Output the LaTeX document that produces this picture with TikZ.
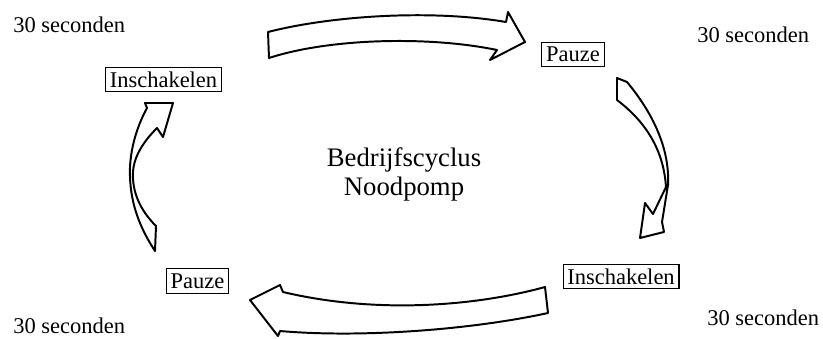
\documentclass[tikz,border=0pt]{standalone}
\usepackage{fontspec}
\setmainfont{Liberation Serif}
\usepackage{tikz}
\usetikzlibrary{positioning}
\tikzstyle{state} = [rectangle, draw=black, line width=0.8pt, inner xsep=3pt, inner ysep=1pt, minimum height=0.62cm, text centered, font=\fontsize{16}{18}\selectfont]
\tikzstyle{duration} = [inner sep=0pt, anchor=base west, font=\fontsize{16}{18}\selectfont]
\tikzstyle{title} = [align=center, font=\fontsize{19}{20.6}\selectfont]
\tikzstyle{blockarrow} = [draw=black, fill=white, line width=1.4pt, line join=round]

\begin{document}
\begin{tikzpicture}[x=0.025cm, y=-0.025cm]
\useasboundingbox (0,0) rectangle (823,338);

\node (secTL) [duration] at (13,32) {30 seconden};
\node (secTR) [duration] at (697,42) {30 seconden};
\node (secBL) [duration] at (13,333) {30 seconden};
\node (secBR) [duration] at (707,325) {30 seconden};

\node (inschTL) [state] at (163.5,79.5) {Inschakelen};
\node (pauzeTR) [state] at (573,54.5) {Pauze};
\node (inschBR) [state] at (621,276.5) {Inschakelen};
\node (pauzeBL) [state] at (197.5,281) {Pauze};

\node (title) [title] at (404,174) {Bedrijfscyclus\\Noodpomp};

\draw [blockarrow] (268,32) .. controls (330,16) and (430,9) .. (506,22) -- (508,12) -- (525,42) -- (490,60) -- (497,50) .. controls (430,36) and (330,38) .. (269,58) -- cycle;
\draw [blockarrow] (617,78) -- (627,82) .. controls (652,112) and (670,148) .. (668,185) -- (662,222) -- (664,232) -- (640,238) -- (645,203) -- (653,214) -- (666,187) .. controls (664,155) and (650,125) .. (617,100) -- cycle;
\draw [blockarrow] (545,287) .. controls (480,305) and (380,315) .. (283,292) -- (280,285) -- (250,300) -- (278,336) -- (280,331) .. controls (360,338) and (470,330) .. (548,313) -- cycle;
\draw [blockarrow] (155,251) -- (156,226) .. controls (140,210) and (132,192) .. (133,172) .. controls (134,155) and (145,140) .. (157,128) -- (163,137) -- (173,103) -- (145,103) -- (147,108) .. controls (135,130) and (129,155) .. (130,177) .. controls (131,205) and (140,228) .. (155,251) -- cycle;

\end{tikzpicture}
\end{document}
